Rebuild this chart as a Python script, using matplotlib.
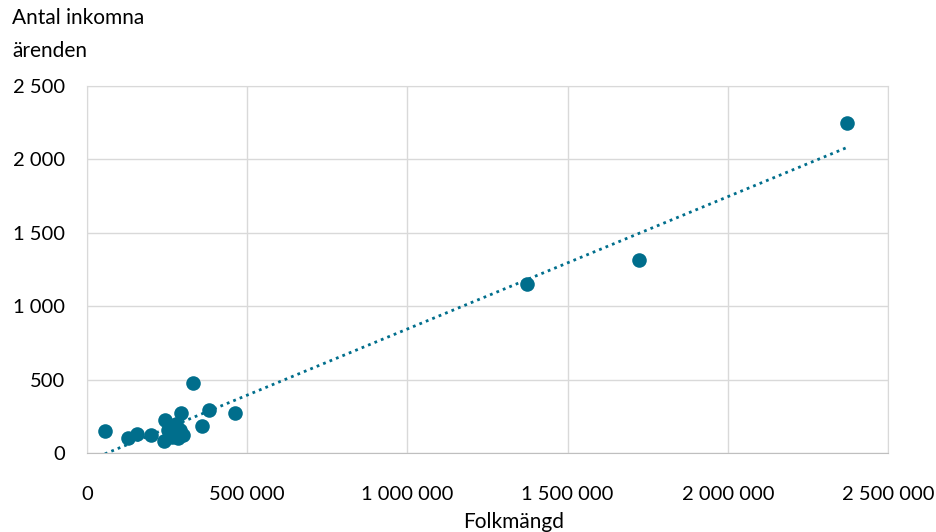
import numpy as np
import matplotlib
matplotlib.use("Agg")
import matplotlib.pyplot as plt
from matplotlib.ticker import FuncFormatter

plt.rcParams['font.family'] = ['Lato', 'DejaVu Sans']

folkmangd = [2372000, 1723000, 1373000, 331000, 462000, 381000, 359000, 56000,
             128000, 156000, 200000, 243000, 293000, 240000, 265000, 284000,
             300000, 278000, 253000, 290000]
arenden = [2250, 1315, 1150, 477, 272, 293, 184, 148,
           102, 129, 123, 225, 272, 85, 109, 102,
           123, 198, 157, 157]

color = '#006E8C'
fig = plt.figure(figsize=(9.37, 5.32), dpi=100)
ax = fig.add_axes([0.0928, 0.1485, 0.855, 0.6898])

ax.scatter(folkmangd, arenden, s=110, color=color, zorder=3, linewidths=0)

x = np.array(folkmangd, dtype=float)
y = np.array(arenden, dtype=float)
k, m = np.polyfit(x, y, 1)
xs = np.linspace(x.min(), x.max(), 200)
ys = k * xs + m
ax.plot(xs, ys, linestyle=(0, (1, 1.5)), color=color, linewidth=2, zorder=2)

ax.set_xlim(0, 2500000)
ax.set_ylim(0, 2500)
ax.set_xticks(np.arange(0, 2500001, 500000))
ax.set_yticks(np.arange(0, 2501, 500))
fmt = FuncFormatter(lambda v, p: f"{int(v):,}".replace(",", " "))
ax.xaxis.set_major_formatter(fmt)
ax.yaxis.set_major_formatter(fmt)
ax.grid(True, color='#d9d9d9', linewidth=1)
ax.set_axisbelow(True)
for s in ['top', 'right', 'left']:
    ax.spines[s].set_color('#d9d9d9')
ax.spines['bottom'].set_color('#bfbfbf')
ax.tick_params(length=0, labelsize=14.5, colors='black')
ax.tick_params(axis='y', pad=16)
ax.tick_params(axis='x', pad=24)

fig.text(0.013, 0.985, "Antal inkomna\närenden", fontsize=15, va='top', ha='left', linespacing=1.8)
fig.text(0.548, 0.019, "Folkmängd", fontsize=15, ha='center', va='center')

fig.savefig("out.png", dpi=100)
